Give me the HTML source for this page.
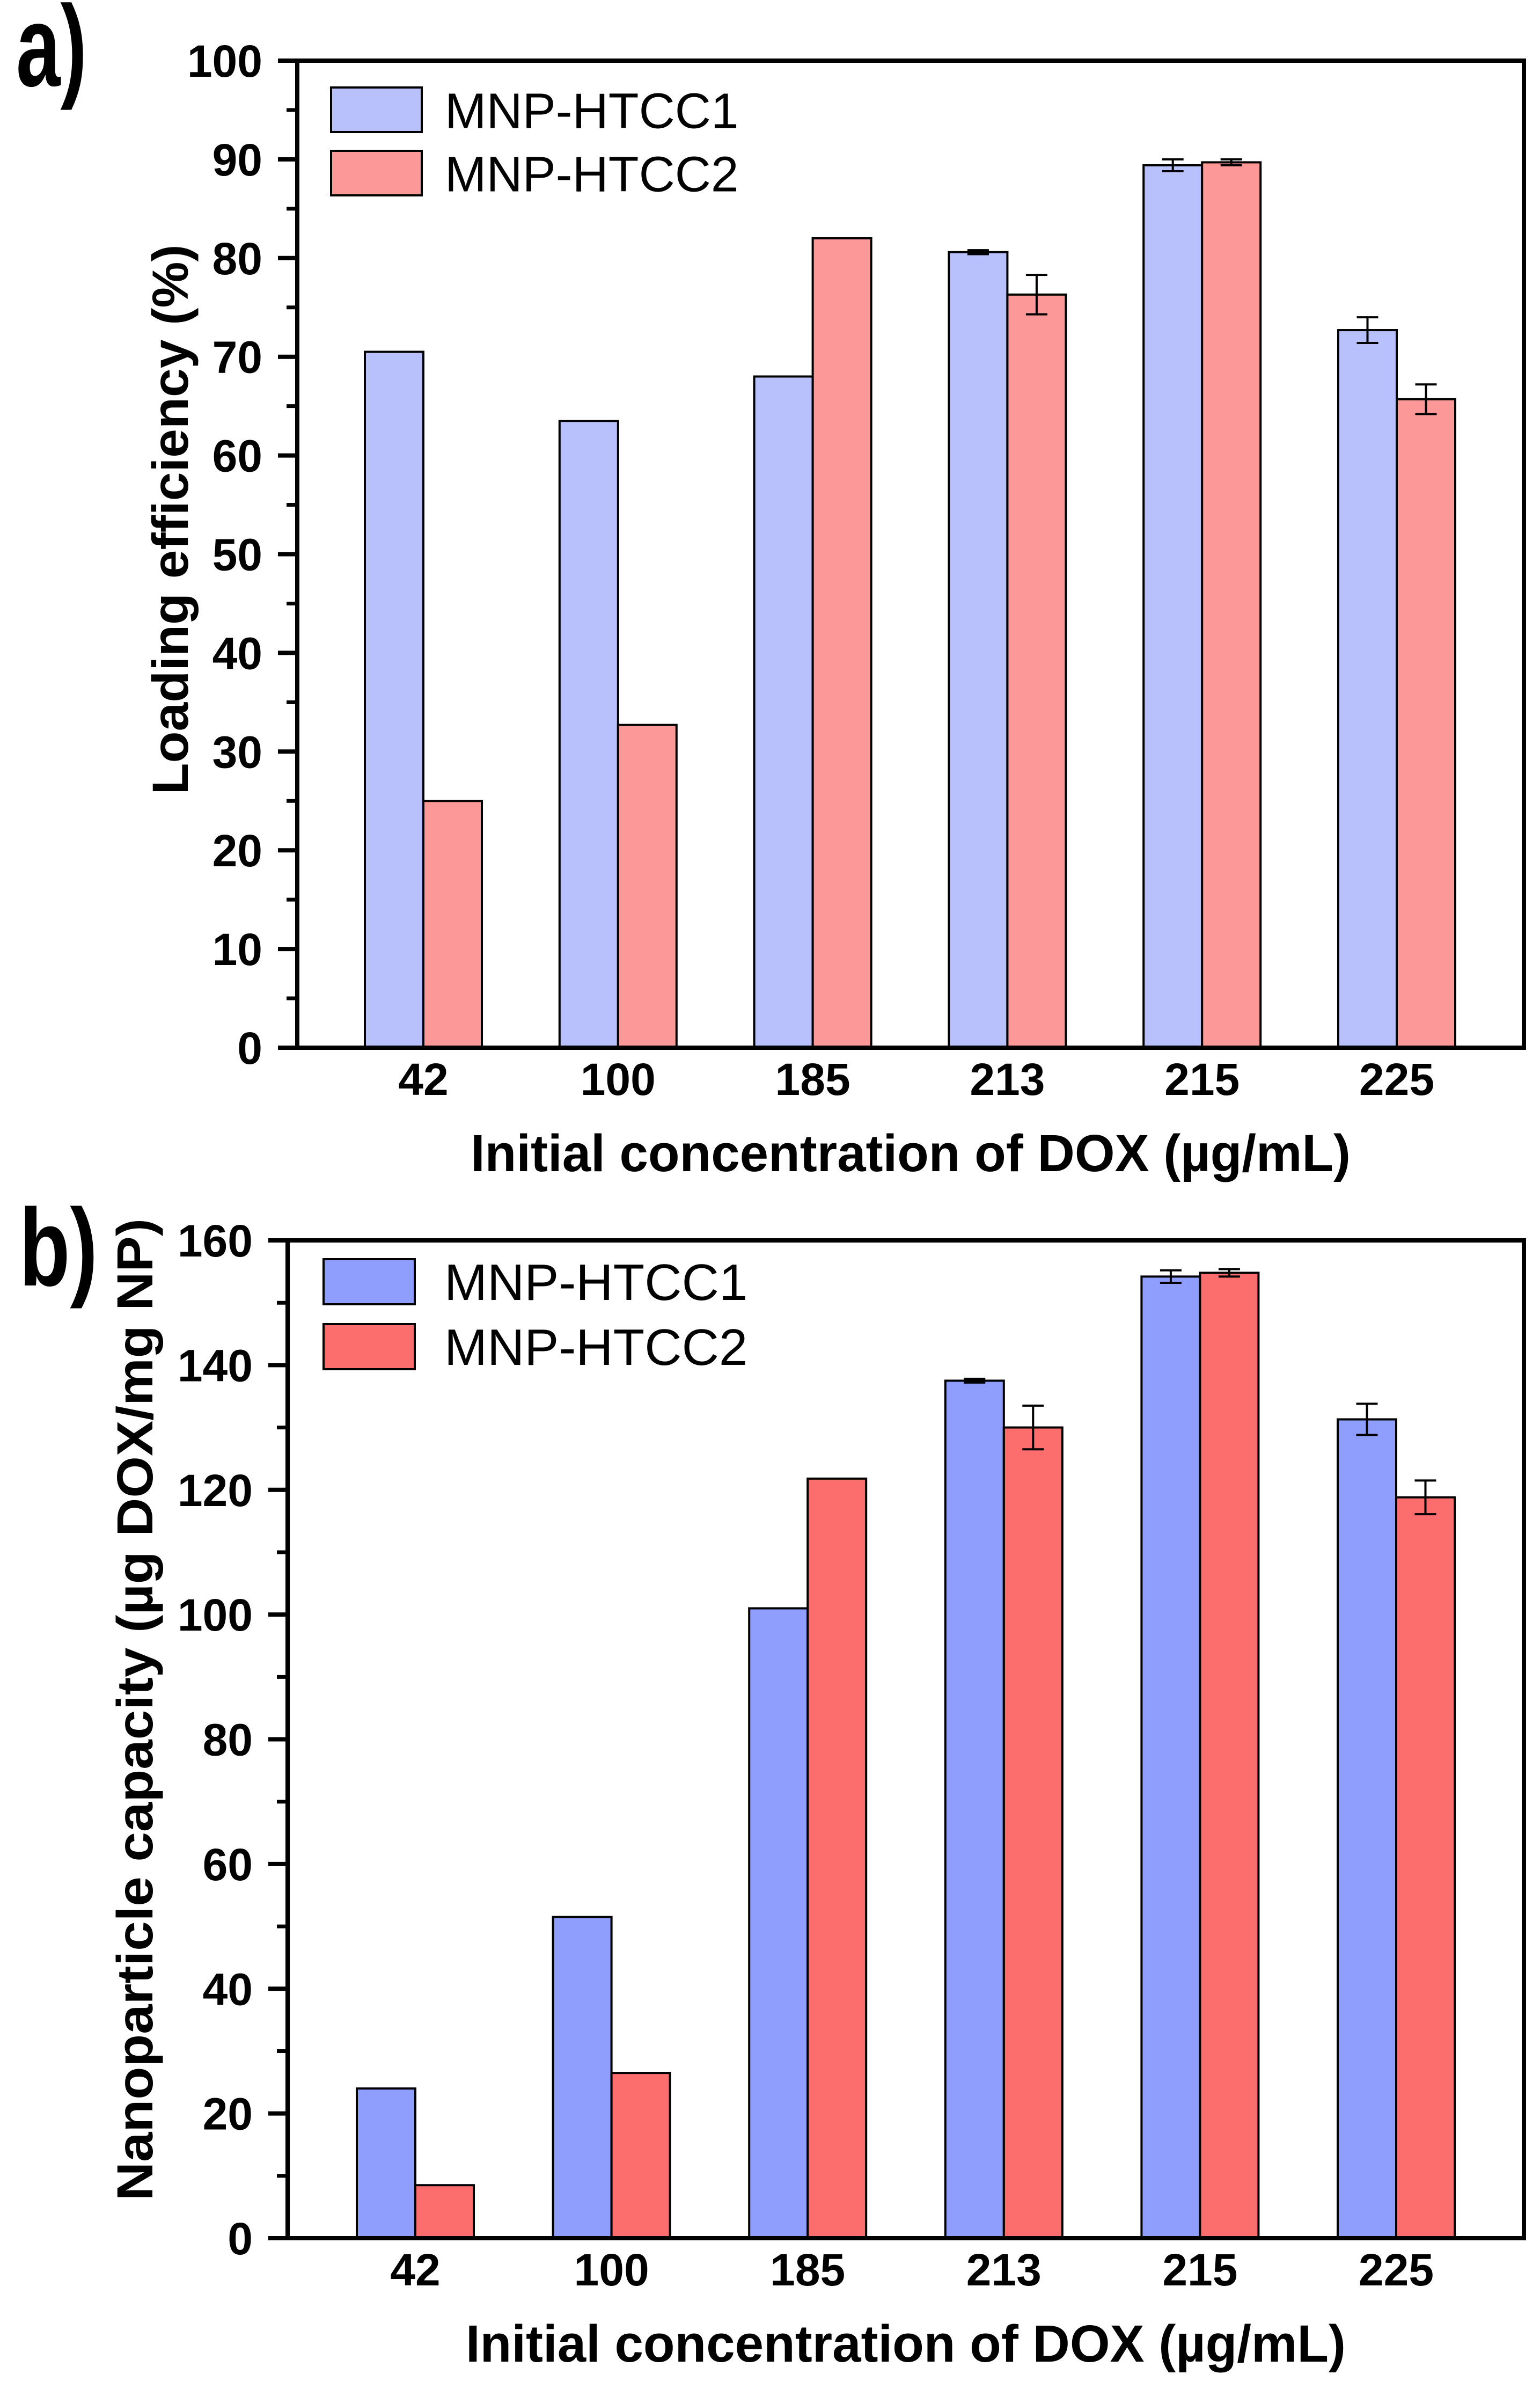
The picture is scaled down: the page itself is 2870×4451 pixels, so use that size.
<!DOCTYPE html>
<html><head><meta charset="utf-8"><style>
html,body{margin:0;padding:0;background:#fff;}
svg{display:block;}
text{font-family:"Liberation Sans",Arial,sans-serif;fill:#000;}
</style></head><body>
<svg id="fig" xmlns="http://www.w3.org/2000/svg" width="2870" height="4451" viewBox="0 0 2870 4451">
<rect width="2870" height="4451" fill="#fff"/>
<text x="30" y="160" font-size="215" font-weight="bold" textLength="132" lengthAdjust="spacingAndGlyphs">a)</text>
<text x="36" y="2395" font-size="205" font-weight="bold" textLength="146" lengthAdjust="spacingAndGlyphs">b)</text>
<g id="pa"></g>
<g id="pb"></g>
</svg>
<script>
const categories = ["42","100","185","213","215","225"];
const aSeries1 = [70.5, 63.5, 68.0, 80.6, 89.4, 72.7];
const aSeries2 = [25.0, 32.7, 82.0, 76.3, 89.7, 65.7];
const aErr1 = [0, 0, 0, 0.2, 0.6, 1.3];
const aErr2 = [0, 0, 0, 2.0, 0.3, 1.5];
const aTicks = [0,10,20,30,40,50,60,70,80,90,100];
const bSeries1 = [24.0, 51.5, 101.0, 137.5, 154.2, 131.3];
const bSeries2 = [8.5, 26.5, 121.8, 130.0, 154.8, 118.8];
const bErr1 = [0, 0, 0, 0.3, 1.0, 2.5];
const bErr2 = [0, 0, 0, 3.5, 0.6, 2.7];
const bTicks = [0,20,40,60,80,100,120,140,160];
const seriesNames = ["MNP-HTCC1","MNP-HTCC2"];

const NS="http://www.w3.org/2000/svg";
function mk(parent,tag,attrs,txt){const e=document.createElementNS(NS,tag);for(const k in attrs)e.setAttribute(k,attrs[k]);if(txt!==undefined)e.textContent=txt;parent.appendChild(e);return e;}

function drawPanel(g,cfg){
  const {L,R,T,B,ymax,ticks,minorStep,c0,step,bw,s1,s2,e1,e2,colors,ylabel,ylabelX,ylabelLen,xtitleY,tickY,leg} = cfg;
  const y = v => B - (v/ymax)*(B-T);
  const x = i => c0 + i*step;
  [s1,s2].forEach((s,si)=>{
    s.forEach((v,i)=>{
      const bx = si===0 ? x(i)-bw : x(i);
      const r = mk(g,'rect',{x:bx,y:y(v),width:bw,height:B-y(v),fill:colors[si],stroke:'#000','stroke-width':4});
      
      
    });
  });
  [e1,e2].forEach((es,si)=>{
    const s = si===0?s1:s2;
    es.forEach((e,i)=>{
      if(e<=0) return;
      const cx = si===0 ? x(i)-bw/2 : x(i)+bw/2;
      const eg = mk(g,'g',{stroke:'#000','stroke-width':4});
      
      
      mk(eg,'line',{x1:cx,x2:cx,y1:y(s[i]+e),y2:y(s[i]-e)});
      mk(eg,'line',{x1:cx-20,x2:cx+20,y1:y(s[i]+e),y2:y(s[i]+e)});
      mk(eg,'line',{x1:cx-20,x2:cx+20,y1:y(s[i]-e),y2:y(s[i]-e)});
    });
  });
  const fr = mk(g,'rect',{x:L,y:T,width:R-L,height:B-T,fill:'none',stroke:'#000','stroke-width':8});
  
  
  ticks.forEach(t=>{
    mk(g,'line',{x1:L-36,x2:L,y1:y(t),y2:y(t),stroke:'#000','stroke-width':8});
    const tl = mk(g,'text',{x:L-65,y:y(t)+30,'font-size':84,'font-weight':'bold','text-anchor':'end'},String(t));
    
    
    if(t+minorStep<=ymax) mk(g,'line',{x1:L-20,x2:L,y1:y(t+minorStep),y2:y(t+minorStep),stroke:'#000','stroke-width':7});
  });
  categories.forEach((c,i)=>{
    const tl = mk(g,'text',{x:x(i),y:tickY,'font-size':84,'font-weight':'bold','text-anchor':'middle'},c);
    
    
  });
  const xt = mk(g,'text',{x:(L+R)/2,y:xtitleY,'font-size':97,'font-weight':'bold','text-anchor':'middle',textLength:1640,lengthAdjust:'spacingAndGlyphs'},'Initial concentration of DOX (µg/mL)');
  
  
  const yc = cfg.ylabelY;
  const yt = mk(g,'text',{x:ylabelX,y:yc,'font-size':95,'font-weight':'bold','text-anchor':'middle',transform:`rotate(-90 ${ylabelX} ${yc})`,textLength:ylabelLen,lengthAdjust:'spacingAndGlyphs'},ylabel);
  
  
  seriesNames.forEach((n,si)=>{
    const ly = leg.y[si];
    const lg = mk(g,'g',{});
    
    
    mk(lg,'rect',{x:leg.x,y:ly,width:leg.w,height:leg.h,fill:colors[si],stroke:'#000','stroke-width':4});
    mk(lg,'text',{x:leg.tx,y:ly+leg.h/2+34,'font-size':leg.fs},n);
  });
}

drawPanel(document.getElementById('pa'),{
  L:554,R:2840,T:113,B:1952,ymax:100,ticks:aTicks,minorStep:5,c0:789,step:362.8,bw:109,
  s1:aSeries1,s2:aSeries2,e1:aErr1,e2:aErr2,colors:['#b9c1fd','#fc9898'],
  ylabel:'Loading efficiency (%)',ylabelX:350,ylabelY:968,ylabelLen:1025,xtitleY:2182,tickY:2040,
  leg:{x:617,y:[163,281],w:169,h:83,tx:829,fs:93}
});
drawPanel(document.getElementById('pb'),{
  L:536,R:2840,T:2311,B:4170,ymax:160,ticks:bTicks,minorStep:10,c0:774,step:365.6,bw:109,
  s1:bSeries1,s2:bSeries2,e1:bErr1,e2:bErr2,colors:['#8f9dfd','#fc6e6e'],
  ylabel:'Nanoparticle capacity (µg DOX/mg NP)',ylabelX:284,ylabelY:3185,ylabelLen:1830,xtitleY:4400,tickY:4258,
  leg:{x:603,y:[2346,2467],w:170,h:84,tx:828,fs:96}
});
</script>
</body></html>
